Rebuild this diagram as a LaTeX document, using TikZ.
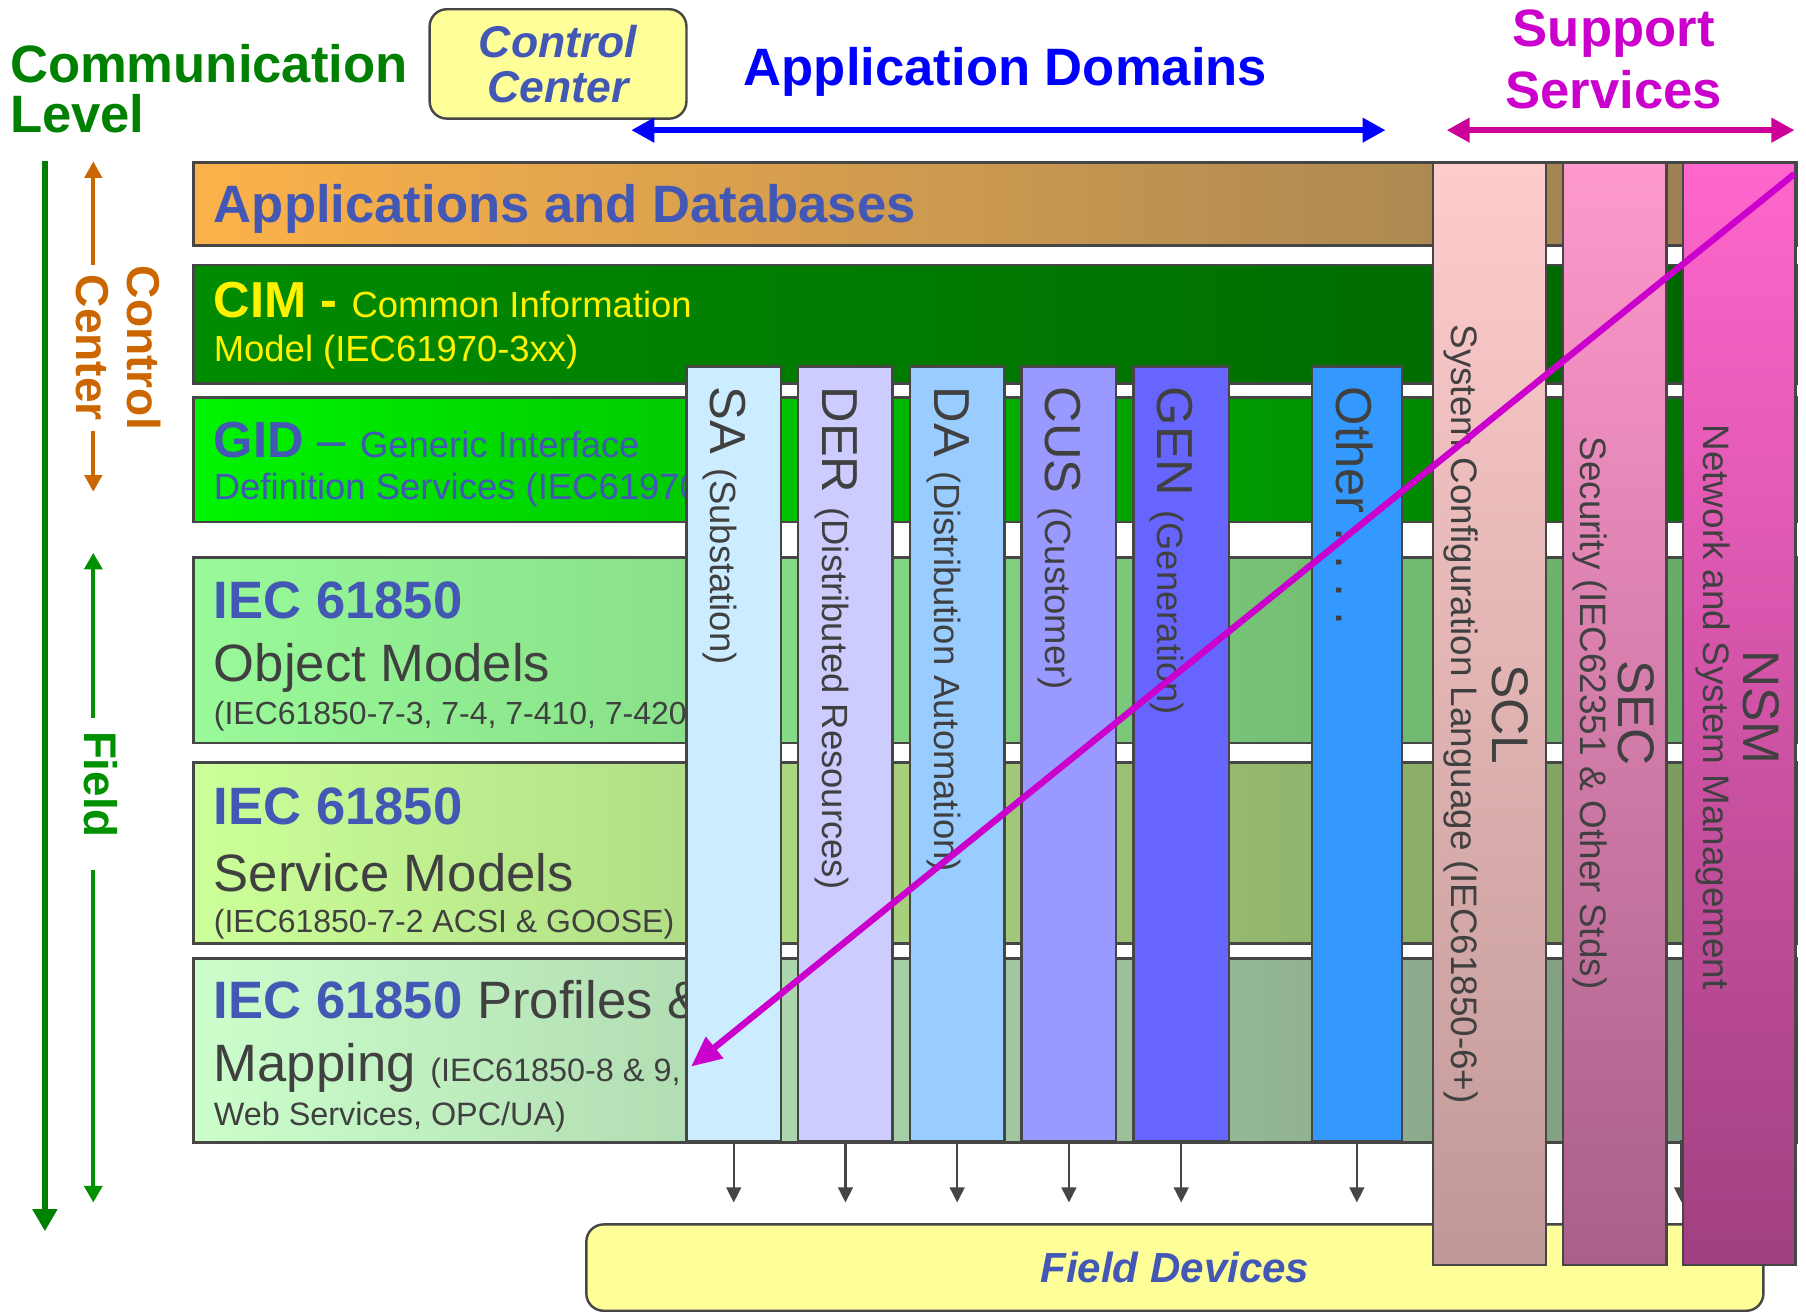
\documentclass[tikz,border=0pt]{standalone}
\usepackage{fontspec}
\setmainfont{Liberation Sans}
\usetikzlibrary{arrows.meta,positioning,calc}

\definecolor{commgreen}{RGB}{0,128,0}
\definecolor{domblue}{RGB}{0,0,255}
\definecolor{ssmag}{RGB}{204,0,204}
\definecolor{ssarrow}{RGB}{204,0,153}
\definecolor{hdblue}{RGB}{66,88,180}
\definecolor{txtgray}{RGB}{64,64,64}
\definecolor{edgegray}{RGB}{70,70,70}
\definecolor{fdyellow}{RGB}{255,255,153}
\definecolor{ccorange}{RGB}{204,102,0}
\definecolor{fldgreen}{RGB}{0,145,0}
\definecolor{appsL}{RGB}{252,178,74}
\definecolor{appsR}{RGB}{150,125,85}
\definecolor{cimL}{RGB}{0,140,0}
\definecolor{cimR}{RGB}{0,100,0}
\definecolor{gidL}{RGB}{0,245,0}
\definecolor{gidR}{RGB}{0,105,0}
\definecolor{objL}{RGB}{153,250,153}
\definecolor{objR}{RGB}{100,165,100}
\definecolor{svcL}{RGB}{204,255,153}
\definecolor{svcR}{RGB}{118,148,88}
\definecolor{prfL}{RGB}{204,255,204}
\definecolor{prfR}{RGB}{118,145,120}
\definecolor{saCol}{RGB}{204,236,255}
\definecolor{derCol}{RGB}{204,204,255}
\definecolor{daCol}{RGB}{153,204,255}
\definecolor{cusCol}{RGB}{153,153,255}
\definecolor{genCol}{RGB}{102,102,255}
\definecolor{othCol}{RGB}{51,153,255}
\definecolor{sclTop}{RGB}{255,204,204}
\definecolor{sclBot}{RGB}{192,152,152}
\definecolor{secTop}{RGB}{255,153,204}
\definecolor{secBot}{RGB}{168,96,136}
\definecolor{nsmTop}{RGB}{255,102,204}
\definecolor{nsmBot}{RGB}{160,64,128}

\newcommand{\bigsz}{\fontsize{13}{15}\selectfont}
\newcommand{\colbig}{\fontsize{12.5}{15}\selectfont}
\newcommand{\smsz}{\fontsize{9}{11}\selectfont}
\newcommand{\tnsz}{\fontsize{7.9}{10}\selectfont}

\tikzset{
  layer/.style={draw=edgegray, line width=0.6pt, anchor=north west, inner sep=0pt, minimum width=139.2mm},
  laytxt/.style={anchor=base west, inner sep=0pt},
  domcol/.style={draw=edgegray, line width=0.6pt, anchor=north west, inner sep=0pt, minimum height=67.3mm},
  supcol/.style={draw=edgegray, line width=0.6pt, anchor=north west, inner sep=0pt, minimum height=95.7mm},
  domtxt/.style={rotate=-90, anchor=base west, inner sep=0pt, text=txtgray, font=\smsz\frenchspacing},
  supbig/.style={rotate=-90, anchor=base, inner sep=0pt, text=txtgray, font=\fontsize{12.7}{15}\selectfont},
  supsmall/.style={rotate=-90, anchor=base, inner sep=0pt, text=txtgray, font=\fontsize{9.1}{11}\selectfont},
  devarrow/.style={draw=edgegray, line width=0.6pt, -{Triangle[length=3.7pt,width=3.6pt]}, shorten >=1.8mm},
  domarrow/.style={draw=domblue, line width=1.6pt, {Triangle[length=5.7pt,width=5.8pt]}-{Triangle[length=5.7pt,width=5.8pt]}},
  suparrow/.style={draw=ssarrow, line width=1.6pt, {Triangle[length=5.7pt,width=5.8pt]}-{Triangle[length=5.7pt,width=5.8pt]}},
  commline/.style={draw=commgreen, line width=1.6pt, -{Triangle[length=5.5pt,width=5.9pt]}},
  ccline/.style={draw=ccorange, line width=1pt, -{Triangle[length=4.1pt,width=4.2pt]}},
  fldline/.style={draw=fldgreen, line width=1pt, -{Triangle[length=4.1pt,width=4.4pt]}},
  diag/.style={draw=ssmag, line width=1.6pt, -{Triangle[length=7.5pt,width=6.5pt]}},
  sidetxt/.style={rotate=-90, anchor=base, inner sep=0pt, font=\fontsize{11.4}{13}\selectfont\bfseries},
  hdtxt/.style={inner sep=0pt, font=\bigsz\bfseries}
}

\begin{document}
\begin{tikzpicture}[x=0.1mm, y=-0.1mm]
\useasboundingbox (0,0) rectangle (1568,1139);

\node[layer, minimum height=7.2mm, left color=appsL, right color=appsR] (apps) at (167,140) {};
\node[layer, minimum height=10.3mm, left color=cimL, right color=cimR] (cim) at (167,229) {};
\node[layer, minimum height=10.8mm, left color=gidL, right color=gidR] (gid) at (167,344) {};
\node[layer, minimum height=16.1mm, left color=objL, right color=objR] (obj) at (167,483) {};
\node[layer, minimum height=15.7mm, left color=svcL, right color=svcR] (svc) at (167,661) {};
\node[layer, minimum height=16.0mm, left color=prfL, right color=prfR] (prf) at (167,831) {};

\node[laytxt, text=hdblue, font=\bigsz\bfseries] (appsT) at (185,193) {Applications and Databases};
\node[laytxt, text=yellow, font=\smsz] (cimT1) at (185,276) {{\colbig\bfseries CIM - }Common Information};
\node[laytxt, text=yellow, font=\smsz] (cimT2) at (185,314) {Model (IEC61970-3xx)};
\node[laytxt, text=hdblue, font=\smsz] (gidT1) at (185,397) {{\colbig\bfseries GID}{\colbig\ –\ }Generic Interface};
\node[laytxt, text=hdblue, font=\smsz] (gidT2) at (185,434) {Definition Services (IEC61970-4xx)};
\node[laytxt, text=hdblue, font=\bigsz\bfseries] (objT1) at (185,537) {IEC 61850};
\node[laytxt, text=txtgray, font=\bigsz] (objT2) at (185,592) {Object Models};
\node[laytxt, text=txtgray, font=\tnsz] (objT3) at (185,629) {(IEC61850-7-3, 7-4, 7-410, 7-420)};
\node[laytxt, text=hdblue, font=\bigsz\bfseries] (svcT1) at (185,716) {IEC 61850};
\node[laytxt, text=txtgray, font=\bigsz] (svcT2) at (185,774) {Service Models};
\node[laytxt, text=txtgray, font=\tnsz] (svcT3) at (185,810) {(IEC61850-7-2 ACSI \& GOOSE)};
\node[laytxt, text=txtgray, font=\bigsz] (prfT1) at (185,884) {{\color{hdblue}\bfseries IEC 61850} Profiles \&};
\node[laytxt, text=txtgray, font=\bigsz] (prfT2) at (185,939) {Mapping {\fontsize{8}{10}\selectfont (IEC61850-8 \& 9,}};
\node[laytxt, text=txtgray, font=\fontsize{8}{10}\selectfont] (prfT3) at (185,977) {Web Services, OPC/UA)};

\node[draw=edgegray, line width=0.6pt, fill=fdyellow, rounded corners=1.5mm, minimum width=102.2mm, minimum height=7.5mm, anchor=north west, text=hdblue, font=\fontsize{10.4}{12}\selectfont\bfseries\itshape] (fdev) at (508,1062) {Field Devices};

\node[domcol, minimum width=8.2mm, fill=saCol] (sa) at (595,317) {};
\node[domcol, minimum width=8.2mm, fill=derCol] (der) at (692,317) {};
\node[domcol, minimum width=8.2mm, fill=daCol] (da) at (789,317) {};
\node[domcol, minimum width=8.2mm, fill=cusCol] (cus) at (886,317) {};
\node[domcol, minimum width=8.3mm, fill=genCol] (gen) at (983,317) {};
\node[domcol, minimum width=7.8mm, fill=othCol] (oth) at (1138,317) {};

\node[domtxt] (saT) at (617,335) {{\colbig SA }(Substation)};
\node[domtxt] (derT) at (714,335) {{\colbig DER }(Distributed Resources)};
\node[domtxt] (daT) at (811,335) {{\colbig DA }(Distribution Automation)};
\node[domtxt] (cusT) at (908,335) {{\colbig CUS }(Customer)};
\node[domtxt] (genT) at (1005,335) {{\colbig GEN }(Generation)};
\node[domtxt] (othT) at (1160,335) {{\colbig Other . . . .}};

\draw[devarrow] (sa.south) -- (sa.south |- fdev.north);
\draw[devarrow] (der.south) -- (der.south |- fdev.north);
\draw[devarrow] (da.south) -- (da.south |- fdev.north);
\draw[devarrow] (cus.south) -- (cus.south |- fdev.north);
\draw[devarrow] (gen.south) -- (gen.south |- fdev.north);
\draw[devarrow] (oth.south) -- (oth.south |- fdev.north);
\coordinate (nsmFoot) at (1460,990);
\draw[devarrow] (nsmFoot) -- (nsmFoot |- fdev.north);

\node[supcol, minimum width=9.8mm, top color=sclTop, bottom color=sclBot] (scl) at (1243,140) {};
\node[supcol, minimum width=9.0mm, top color=secTop, bottom color=secBot] (sec) at (1356,140) {};
\node[supcol, minimum width=9.8mm, top color=nsmTop, bottom color=nsmBot] (nsm) at (1460,140) {};

\node[supbig] (sclA) at (1296,620) {SCL};
\node[supsmall] (sclB) at (1260,620) {System Configuration Language (IEC61850-6+)};
\node[supbig] (secA) at (1405,619) {SEC};
\node[supsmall] (secB) at (1372,619) {Security (IEC62351 \& Other Stds)};
\node[supbig] (nsmA) at (1514,614) {NSM};
\node[supsmall] (nsmB) at (1479,614) {Network and System Management};

\coordinate (diagS) at (1558,151);
\coordinate (diagE) at (600,926);
\draw[diag] (diagS) -- (diagE);

\node[hdtxt, anchor=base west, text=commgreen] (commA) at (8,72) {Communication};
\node[hdtxt, anchor=base west, text=commgreen] (commB) at (8,115) {Level};
\node[draw=edgegray, line width=0.6pt, fill=fdyellow, rounded corners=1.5mm, minimum width=22.3mm, minimum height=9.5mm, align=center, text=hdblue, font=\fontsize{11}{11.1}\selectfont\bfseries\itshape] (ctrlBox) at (484.5,55.5) {Control\\Center};

\node[hdtxt, anchor=base, text=domblue] (appDom) at (873,74) {Application Domains};
\coordinate (adL) at (548,113);
\coordinate (adR) at (1203,113);
\draw[domarrow] (adL) -- (adR);

\node[hdtxt, anchor=base, text=ssmag] (supA) at (1401,40) {Support};
\node[hdtxt, anchor=base, text=ssmag] (supB) at (1401,94) {Services};
\coordinate (ssL) at (1256,113);
\coordinate (ssR) at (1558,113);
\draw[suparrow] (ssL) -- (ssR);

\coordinate (clTop) at (39,140);
\coordinate (clBot) at (39,1069);
\draw[commline] (clTop) -- (clBot);

\node[sidetxt, text=ccorange] (ccA) at (111,302) {Control};
\node[sidetxt, text=ccorange] (ccB) at (66,302) {Center};
\coordinate (ccTop) at (81,140);
\coordinate (ccBot) at (81,427);
\draw[ccline] (ccA.west -| ccTop) -- (ccTop);
\draw[ccline] (ccA.east -| ccBot) -- (ccBot);

\node[rotate=-90, anchor=base, inner sep=0pt, text=fldgreen, font=\fontsize{11.3}{13}\selectfont\bfseries] (fld) at (73,681) {Field};
\coordinate (fdTop) at (81,480);
\coordinate (fdBot) at (81,1044);
\draw[fldline, shorten <=1.1mm] (fld.west -| fdTop) -- (fdTop);
\draw[fldline, shorten <=2.7mm] (fld.east -| fdBot) -- (fdBot);

\end{tikzpicture}
\end{document}
